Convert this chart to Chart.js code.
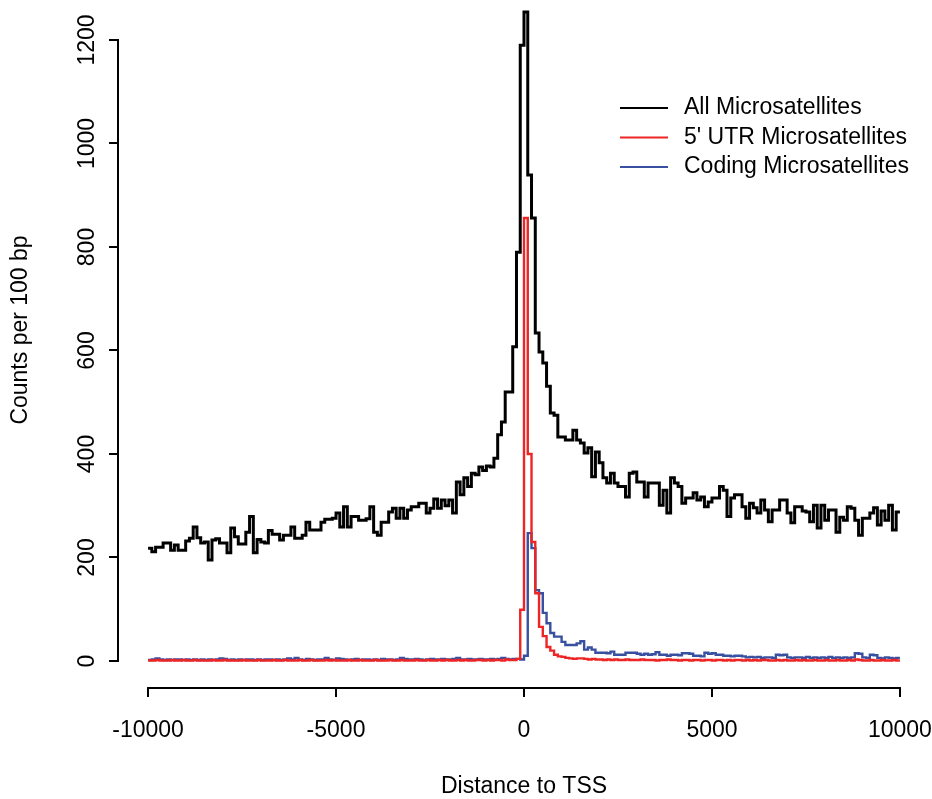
<!DOCTYPE html>
<html>
<head>
<meta charset="utf-8">
<script src="https://cdn.jsdelivr.net/npm/chart.js@4.4.1/dist/chart.umd.min.js"></script>
<style>
  html, body { margin: 0; padding: 0; background: #fff; }
  #chart { display: block; }
</style>
</head>
<body>
<canvas id="chart" width="932" height="799"></canvas>
<script>
// 100 bp bins from -10000 to +10000
const binStart = -10000;
const binWidth = 100;

const allCounts = [
  218, 211, 220, 220, 228, 228, 214, 224, 214, 214,
  232, 237, 259, 238, 228, 230, 195, 234, 236, 228,
  228, 209, 257, 240, 226, 226, 249, 279, 209, 235,
  230, 228, 252, 245, 245, 234, 243, 243, 259, 237,
  237, 243, 268, 253, 253, 253, 268, 274, 274, 276,
  286, 259, 298, 259, 279, 279, 272, 272, 275, 298,
  249, 243, 268, 268, 288, 295, 276, 295, 276, 292,
  298, 298, 305, 305, 286, 295, 313, 295, 311, 300,
  311, 286, 346, 321, 354, 337, 363, 360, 375, 368,
  377, 375, 392, 437, 462, 520, 520, 607, 790, 1190,
  1254, 939, 856, 634, 597, 576, 531, 479, 475, 433,
  433, 427, 427, 446, 427, 421, 402, 412, 356, 404,
  383, 354, 344, 363, 344, 337, 337, 317, 363, 365,
  346, 346, 317, 344, 344, 344, 301, 330, 286, 354,
  344, 337, 305, 315, 315, 325, 311, 317, 298, 307,
  315, 315, 337, 330, 279, 315, 321, 321, 298, 276,
  305, 296, 286, 311, 292, 269, 292, 292, 311, 311,
  286, 267, 298, 298, 290, 288, 269, 301, 257, 301,
  272, 292, 292, 249, 278, 272, 298, 295, 272, 243,
  276, 276, 286, 296, 263, 290, 272, 301, 253, 288
];

const utrCounts = [
  1, 1, 2, 1, 1, 1, 2, 1, 1, 2,
  1, 1, 2, 1, 1, 1, 1, 2, 1, 1,
  2, 1, 1, 1, 1, 2, 1, 1, 1, 2,
  1, 1, 1, 2, 1, 1, 2, 1, 1, 1,
  2, 1, 1, 2, 1, 1, 1, 2, 1, 2,
  1, 1, 1, 2, 1, 1, 2, 1, 1, 1,
  2, 1, 1, 1, 2, 1, 1, 2, 1, 1,
  1, 2, 1, 1, 2, 1, 1, 2, 1, 2,
  1, 1, 2, 1, 2, 1, 1, 2, 2, 1,
  2, 1, 2, 2, 1, 3, 2, 2, 4, 99,
  856, 400, 230, 131, 66, 48, 27, 20, 12, 9,
  8, 6, 5, 4, 5, 5, 4, 3, 4, 3,
  3, 2, 3, 2, 3, 2, 2, 3, 2, 2,
  2, 3, 2, 2, 2, 1, 2, 2, 3, 2,
  2, 1, 2, 2, 1, 2, 2, 1, 2, 2,
  1, 2, 2, 1, 2, 1, 2, 2, 1, 2,
  1, 2, 1, 2, 2, 1, 1, 2, 1, 2,
  1, 1, 2, 1, 2, 1, 1, 2, 1, 1,
  2, 1, 1, 2, 1, 1, 2, 1, 3, 2,
  1, 1, 2, 1, 1, 2, 1, 1, 2, 1
];

const codingCounts = [
  2, 3, 5, 3, 2, 3, 2, 3, 3, 2,
  3, 2, 3, 2, 3, 2, 3, 2, 3, 5,
  4, 2, 3, 2, 3, 2, 3, 3, 2, 3,
  2, 3, 3, 2, 3, 2, 3, 5, 3, 6,
  3, 2, 4, 3, 2, 3, 3, 6, 3, 2,
  5, 4, 3, 2, 3, 4, 2, 3, 3, 2,
  3, 2, 4, 3, 3, 2, 3, 6, 4, 3,
  3, 4, 3, 2, 3, 4, 3, 3, 4, 3,
  3, 4, 6, 3, 3, 4, 3, 3, 4, 3,
  3, 4, 3, 4, 6, 4, 3, 4, 4, 3,
  10, 247, 218, 137, 131, 93, 73, 54, 47, 47,
  37, 31, 31, 31, 34, 38, 22, 26, 22, 16,
  16, 16, 15, 18, 12, 12, 12, 16, 16, 16,
  14, 12, 14, 12, 13, 17, 12, 12, 10, 12,
  12, 11, 15, 15, 14, 10, 10, 9, 16, 14,
  15, 12, 12, 10, 10, 9, 10, 10, 9, 7,
  8, 7, 8, 6, 7, 7, 6, 12, 11, 12,
  7, 6, 7, 7, 6, 8, 6, 7, 6, 7,
  6, 8, 6, 7, 6, 7, 6, 7, 15, 14,
  7, 6, 12, 11, 6, 5, 7, 6, 5, 6
];

const seriesNames = ['All Microsatellites', "5' UTR Microsatellites", 'Coding Microsatellites'];
const seriesColors = ['#000000', '#ee2525', '#3850a0'];
const xTicks = [-10000, -5000, 0, 5000, 10000];
const yTicks = [0, 200, 400, 600, 800, 1000, 1200];
const xTitle = 'Distance to TSS';
const yTitle = 'Counts per 100 bp';

const FONT_FAMILY = '"Liberation Sans", Arial, Helvetica, sans-serif';
const FONT_SIZE = 23;

// R style type="s": value held across the bin, closed at the last edge
function toSteps(counts) {
  const pts = counts.map((v, i) => ({ x: binStart + i * binWidth, y: v }));
  pts.push({ x: binStart + counts.length * binWidth, y: counts[counts.length - 1] });
  return pts;
}

// axis lines only between first and last tick, tick labels, titles, legend
const rDecor = {
  id: 'rDecor',
  afterDraw(chart) {
    const { ctx, chartArea } = chart;
    const x = chart.scales.x, y = chart.scales.y;
    ctx.save();
    ctx.strokeStyle = '#000';
    ctx.lineWidth = 2;
    ctx.beginPath();
    ctx.moveTo(x.getPixelForValue(xTicks[0]) - 1, chartArea.bottom);
    ctx.lineTo(x.getPixelForValue(xTicks[xTicks.length - 1]) + 1, chartArea.bottom);
    ctx.moveTo(chartArea.left, y.getPixelForValue(yTicks[0]) + 1);
    ctx.lineTo(chartArea.left, y.getPixelForValue(yTicks[yTicks.length - 1]) - 1);
    ctx.stroke();

    ctx.fillStyle = '#000';
    ctx.font = FONT_SIZE + 'px ' + FONT_FAMILY;
    ctx.textAlign = 'center';
    ctx.textBaseline = 'middle';
    xTicks.forEach(v => {
      ctx.fillText(String(v), x.getPixelForValue(v), 731);
    });
    yTicks.forEach(v => {
      ctx.save();
      ctx.translate(88, y.getPixelForValue(v));
      ctx.rotate(-Math.PI / 2);
      ctx.fillText(String(v), 0, 0);
      ctx.restore();
    });

    ctx.fillText(xTitle, x.getPixelForValue(0), 787);
    ctx.save();
    ctx.translate(21, 330);
    ctx.rotate(-Math.PI / 2);
    ctx.fillText(yTitle, 0, 0);
    ctx.restore();

    // legend, no box
    ctx.textAlign = 'left';
    seriesNames.forEach((name, i) => {
      const ly = 108 + i * 29.5;
      ctx.strokeStyle = seriesColors[i];
      ctx.lineWidth = 2;
      ctx.beginPath();
      ctx.moveTo(620, ly);
      ctx.lineTo(668, ly);
      ctx.stroke();
      ctx.fillText(name, 684, ly);
    });
    ctx.restore();
  }
};

const ctx = document.getElementById('chart').getContext('2d');
new Chart(ctx, {
  type: 'line',
  data: {
    datasets: [
      { label: seriesNames[0], data: toSteps(allCounts), borderColor: seriesColors[0], borderWidth: 3, order: 3 },
      { label: seriesNames[1], data: toSteps(utrCounts), borderColor: seriesColors[1], borderWidth: 2.4, order: 1 },
      { label: seriesNames[2], data: toSteps(codingCounts), borderColor: seriesColors[2], borderWidth: 2.4, order: 2 }
    ]
  },
  options: {
    responsive: false,
    animation: false,
    devicePixelRatio: 1,
    layout: { padding: { top: 0, right: 2, left: 0, bottom: 0 } },
    elements: {
      line: { stepped: 'before', tension: 0, fill: false },
      point: { radius: 0, hoverRadius: 0 }
    },
    plugins: { legend: { display: false }, tooltip: { enabled: false } },
    scales: {
      x: {
        type: 'linear',
        min: -10800,
        max: 10800,
        afterBuildTicks: s => { s.ticks = xTicks.map(v => ({ value: v })); },
        afterFit: s => { s.height = 111; s.paddingLeft = 0; s.paddingRight = 0; },
        border: { display: false },
        grid: { drawOnChartArea: false, drawTicks: true, tickLength: 9, color: '#000', lineWidth: 2 },
        ticks: { display: false }
      },
      y: {
        type: 'linear',
        min: -52.2,
        max: 1277.3,
        afterBuildTicks: s => { s.ticks = yTicks.map(v => ({ value: v })); },
        afterFit: s => { s.width = 118; },
        border: { display: false },
        grid: { drawOnChartArea: false, drawTicks: true, tickLength: 9, color: '#000', lineWidth: 2 },
        ticks: { display: false }
      }
    }
  },
  plugins: [rDecor]
});
</script>
</body>
</html>
